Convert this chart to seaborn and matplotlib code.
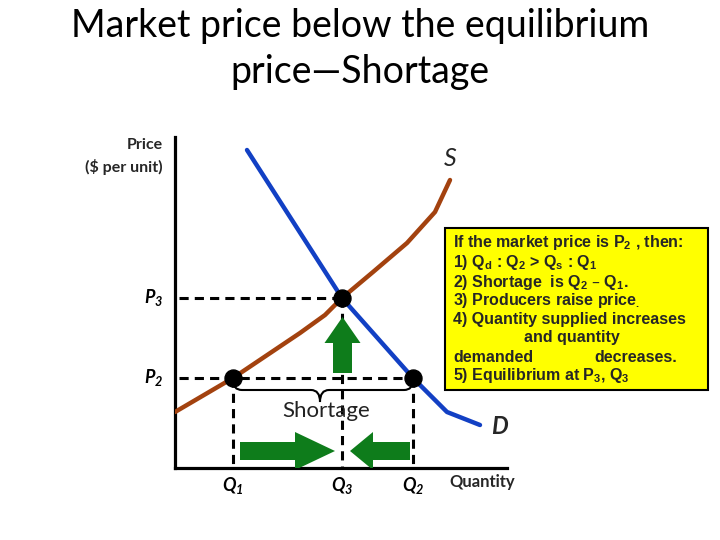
import numpy as np
import pandas as pd
import matplotlib
matplotlib.use("Agg")
import matplotlib.pyplot as plt
import seaborn as sns
from matplotlib.patches import FancyArrow, Rectangle, PathPatch
from matplotlib.path import Path

# ---- data (schematic units) ----
supply_q = [0, 58, 125, 150, 167, 198, 232, 260, 275]
supply_p = [56, 90, 135, 153, 170, 196, 225, 256, 288]
demand_q = [72, 167, 238, 272, 305]
demand_p = [318, 170, 90, 56, 43]
q1, q3, q2 = 58, 167, 238
p2, p3 = 90, 170
point_q = [q1, q3, q2]
point_p = [p2, p3, p2]

title_lines = ["Market price below the equilibrium", "price\u2014Shortage"]
box_lines = [
    "If the market price is P$_2$ , then:",
    "1) Q$_d$ : Q$_2$ > Q$_s$ : Q$_1$",
    "2) Shortage  is Q$_2$ \u2013 Q$_1$.",
    "3) Producers raise price$_.$",
    "4) Quantity supplied increases",
]

sns.set_theme(style="white")
plt.rcParams["mathtext.default"] = "regular"
plt.rcParams["font.family"] = ["Lato", "DejaVu Sans"]

BLUE = "#1240c4"
BROWN = "#a3420f"
GREEN = "#0e7c1b"

fig = plt.figure(figsize=(7.2, 5.4), dpi=100)
ax = fig.add_axes([175 / 720, 72 / 540, 545 / 720, 468 / 540])
ax.set_xlim(0, 545)
ax.set_ylim(0, 468)
ax.set_xticks([])
ax.set_yticks([])
for s in ["top", "right"]:
    ax.spines[s].set_visible(False)
for s in ["left", "bottom"]:
    ax.spines[s].set_linewidth(2.3)
    ax.spines[s].set_color("black")
ax.spines["left"].set_bounds(0, 331)
ax.spines["bottom"].set_bounds(0, 332)
ax.patch.set_alpha(0)

# dashed guides
dash_kw = dict(color="black", lw=2.2, dashes=(3, 2), clip_on=False, zorder=2)
ax.plot([4, q3], [p3, p3], **dash_kw)
ax.plot([4, q2], [p2, p2], **dash_kw)
ax.plot([q1, q1], [p2, 0], **dash_kw)
ax.plot([q3, q3], [p3, 0], **dash_kw)
ax.plot([q2, q2], [p2, 0], **dash_kw)

# curves
sup = pd.DataFrame({"q": supply_q, "p": supply_p})
dem = pd.DataFrame({"q": demand_q, "p": demand_p})
sns.lineplot(data=sup, x="q", y="p", sort=False, color=BROWN, lw=3.2, ax=ax, zorder=3)
sns.lineplot(data=dem, x="q", y="p", sort=False, color=BLUE, lw=3.2, ax=ax, zorder=3)
sns.scatterplot(x=point_q, y=point_p, s=150, color="black", edgecolor="black", ax=ax, zorder=5)
ax.set_xlabel("")
ax.set_ylabel("")

# green arrows
ax.add_patch(FancyArrow(q1 + 7, 17, (q3 - 7) - (q1 + 7), 0, width=18, head_width=38,
                        head_length=40, length_includes_head=True, color=GREEN, lw=0, zorder=4))
ax.add_patch(FancyArrow(q2 - 3, 17, (q3 + 8) - (q2 - 3), 0, width=18, head_width=38,
                        head_length=23, length_includes_head=True, color=GREEN, lw=0, zorder=4))
ax.add_patch(FancyArrow(q3 + 0.5, 95, 0, (p3 - 19) - 95, width=19, head_width=36,
                        head_length=26, length_includes_head=True, color=GREEN, lw=0, zorder=4))

# brace
x0, x1, xm = q1, q2, 145
yt, ym, yb, r = 88, 78, 66, 9
verts = [(x0, yt), (x0, ym), (x0 + r, ym), (xm - r, ym), (xm, ym), (xm, yb),
         (xm, ym), (xm + r, ym), (x1 - r, ym), (x1, ym), (x1, yt)]
codes = [Path.MOVETO, Path.CURVE3, Path.CURVE3, Path.LINETO, Path.CURVE3, Path.CURVE3,
         Path.CURVE3, Path.CURVE3, Path.LINETO, Path.CURVE3, Path.CURVE3]
ax.add_patch(PathPatch(Path(verts, codes), fill=False, lw=1.5, color="black", zorder=4))
ax.text(151, 57, "Shortage", ha="center", va="center", fontsize=16, color="#222222")

# labels
lab_kw = dict(fontsize=13, fontweight="bold", fontstyle="italic", clip_on=False, color="black")
ax.text(-21, p3, "P$_3$", ha="center", va="center", **lab_kw)
ax.text(-21, p2, "P$_2$", ha="center", va="center", **lab_kw)
ax.text(q1, -18, "Q$_1$", ha="center", va="center", **lab_kw)
ax.text(q3, -18, "Q$_3$", ha="center", va="center", **lab_kw)
ax.text(q2, -18, "Q$_2$", ha="center", va="center", **lab_kw)
ax.text(307, -14, "Quantity", ha="center", va="center", fontsize=12, fontweight="bold")
ax.text(324, 42, "D", ha="center", va="center", fontsize=17, fontweight="bold", fontstyle="italic")
ax.text(275, 310, "S", ha="center", va="center", fontsize=18, fontstyle="italic")
ax.text(-12, 323, "Price", ha="right", va="center", fontsize=11.5, fontweight="bold")
ax.text(-12, 301, "($ per unit)", ha="right", va="center", fontsize=11.5, fontweight="bold")

# text box
ax.add_patch(Rectangle((270, 78), 263, 162, facecolor="#ffff00", edgecolor="black",
                       lw=1.5, clip_on=False, zorder=6))
box_kw = dict(fontsize=11.5, family="Liberation Sans", fontweight="bold", va="baseline",
              zorder=7, clip_on=False)
baselines = [221, 201, 181, 163, 144]
for txt, yb_ in zip(box_lines, baselines):
    ax.text(278, yb_, txt, ha="left", **box_kw)
ax.text(397, 126, "and quantity", ha="center", **box_kw)
ax.text(278, 106, "demanded", ha="left", **box_kw)
ax.text(502, 106, "decreases.", ha="right", **box_kw)
ax.text(278, 88, "5) Equilibrium at P$_3$, Q$_3$", ha="left", **box_kw)

fig.text(0.5, 1 - 37 / 540, title_lines[0], ha="center", va="baseline", fontsize=27, color="black")
fig.text(0.5, 1 - 83 / 540, title_lines[1], ha="center", va="baseline", fontsize=27, color="black")

fig.savefig("out.png", dpi=100)
